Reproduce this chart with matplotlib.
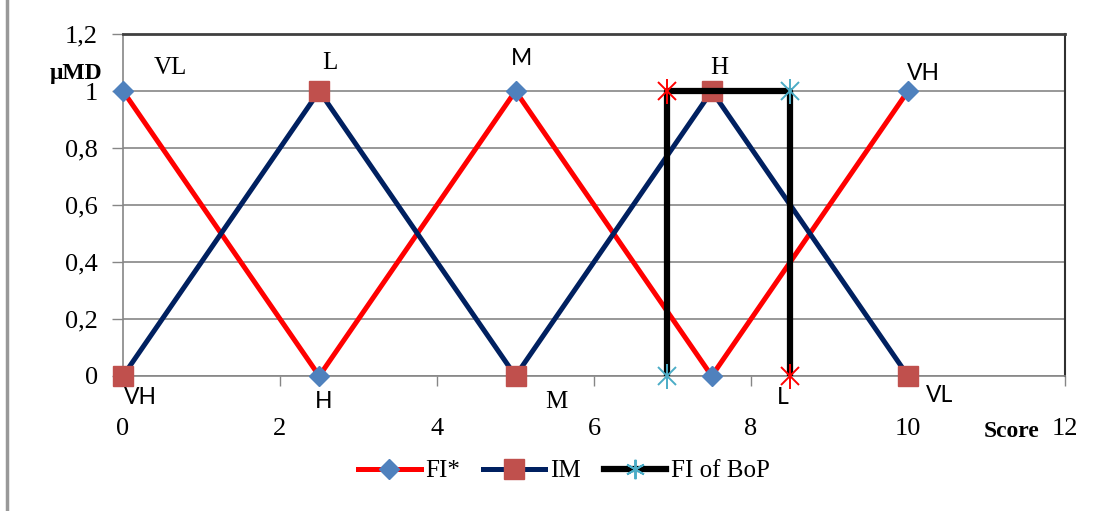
#!/usr/bin/env python3
"""Fuzzy membership chart: FI*, IM and FI of BoP vs score."""
import matplotlib
matplotlib.use("Agg")
import matplotlib.pyplot as plt
from matplotlib.lines import Line2D

# data
fi_x = [0, 2.5, 5, 7.5, 10]
fi_y = [1, 0, 1, 0, 1]
im_x = [0, 2.5, 5, 7.5, 10]
im_y = [0, 1, 0, 1, 0]
bop_x = [6.93, 6.93, 8.5, 8.5]
bop_y = [0, 1, 1, 0]
bop_marker_colors = ["#4BACC6", "#FF0000", "#4BACC6", "#FF0000"]

top_labels = ["VL", "L", "M", "H", "VH"]
bottom_labels = ["VH", "H", "M", "L", "VL"]

x_ticks = [0, 2, 4, 6, 8, 10, 12]
y_ticks = [0, 0.2, 0.4, 0.6, 0.8, 1.0, 1.2]
y_ticklabels = ["0", "0,2", "0,4", "0,6", "0,8", "1", "1,2"]

SERIF = "Liberation Serif"
SANS = "Lato"

W, H = 1093, 511
fig = plt.figure(figsize=(W / 100, H / 100), dpi=100)
ax = fig.add_axes([123 / W, 1 - 376 / H, (1065 - 123) / W, (376 - 34) / H])

# outer chart border (left edge only visible)
fig.add_artist(Line2D([7 / W, 7 / W], [0, 1], color="#999999", lw=2.5,
                      transform=fig.transFigure))

ax.set_xlim(0, 12)
ax.set_ylim(0, 1.2)
ax.set_yticks(y_ticks)
ax.set_yticklabels(y_ticklabels, fontfamily=SERIF, fontsize=19)
ax.set_xticks(x_ticks)
ax.set_xticklabels([str(t) for t in x_ticks], fontfamily=SERIF, fontsize=19)
ax.tick_params(axis="x", length=7, width=1, color="#868686", pad=23)
ax.tick_params(axis="y", length=8, width=1, color="#868686", pad=10)
ax.grid(axis="y", color="#868686", lw=1.2)
ax.set_axisbelow(True)
for s in ["left", "bottom"]:
    ax.spines[s].set_color("#868686")
    ax.spines[s].set_linewidth(1.2)
ax.spines["top"].set_color("#404040")
ax.spines["top"].set_linewidth(2)
ax.spines["right"].set_color("#303030")
ax.spines["right"].set_linewidth(1.5)

# series
ax.plot(fi_x, fi_y, color="#FF0000", lw=3.6, marker="D", ms=10,
        mfc="#4F81BD", mec="#4F81BD", zorder=3, clip_on=False)
ax.plot(im_x, im_y, color="#002060", lw=3.6, marker="s", ms=14,
        mfc="#C0504D", mec="#C0504D", zorder=3, clip_on=False)
ax.plot(bop_x, bop_y, color="black", lw=4.5, zorder=4, solid_capstyle="butt",
        clip_on=False)
for x, y, c in zip(bop_x, bop_y, bop_marker_colors):
    ax.plot([x], [y], marker="x", ms=13, mew=1.4, color=c, zorder=5, clip_on=False)
    ax.plot([x], [y], marker="|", ms=18, mew=1.4, color=c, zorder=5, clip_on=False)

# point labels (pixel-estimated offsets)
kw_serif = dict(fontfamily=SERIF, fontsize=18, ha="center", va="center")
kw_sans = dict(fontfamily=SANS, fontsize=16.5, ha="center", va="center")
ax.text(0.6, 1.08, top_labels[0], **kw_serif)
ax.text(2.64, 1.10, top_labels[1], **kw_serif)
ax.text(5.08, 1.115, top_labels[2], **kw_sans)
ax.text(7.6, 1.08, top_labels[3], **kw_serif)
ax.text(10.2, 1.063, top_labels[4], **kw_sans)
ax.text(0.22, -0.077, bottom_labels[0], **kw_sans)
ax.text(2.55, -0.09, bottom_labels[1], **kw_sans)
ax.text(5.52, -0.09, bottom_labels[2], **kw_serif)
ax.text(8.4, -0.074, bottom_labels[3], **kw_sans)
ax.text(10.4, -0.067, bottom_labels[4], **kw_sans)

# axis titles
fig.text(76 / W, 1 - 73 / H, "μMD", fontfamily=SERIF, fontsize=17,
         fontweight="bold", ha="center", va="center")
fig.text(1012 / W, 1 - 431 / H, "Score", fontfamily=SERIF, fontsize=17,
         fontweight="bold", ha="center", va="center")

# legend
handles = [
    Line2D([], [], color="#FF0000", lw=3.6, marker="D", ms=10,
           mfc="#4F81BD", mec="#4F81BD"),
    Line2D([], [], color="#002060", lw=3.6, marker="s", ms=14,
           mfc="#C0504D", mec="#C0504D"),
    Line2D([], [], color="black", lw=4.5, marker=(6, 2, 0), ms=14, mew=1.4,
           mec="#4BACC6"),
]
fig.legend(handles, ["FI*", "IM", "FI of BoP"], loc="center",
           bbox_to_anchor=(564 / W, 1 - 471 / H), ncol=3, frameon=False,
           prop={"family": SERIF, "size": 18}, handlelength=2.5,
           columnspacing=0.9, handletextpad=0.2)

fig.savefig("out.png", dpi=100)
